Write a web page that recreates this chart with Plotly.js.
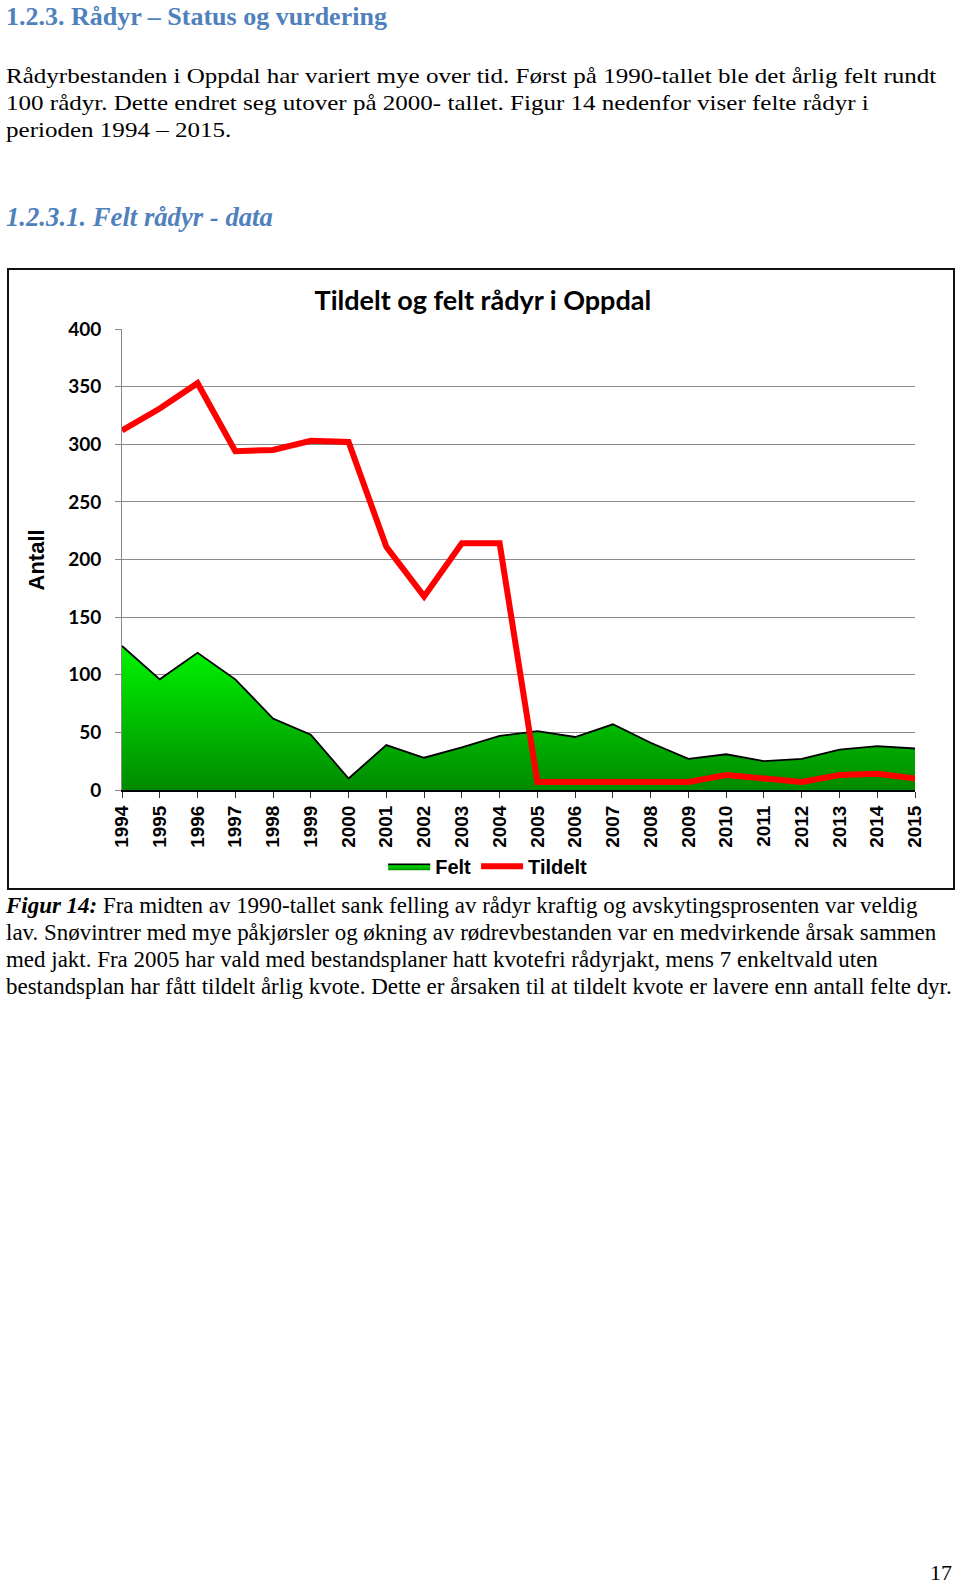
<!DOCTYPE html>
<html>
<head>
<meta charset="utf-8">
<script src="https://cdn.plot.ly/plotly-3.0.1.min.js"></script>
<style>
  html, body { margin:0; padding:0; background:#fff; }
  body { width:960px; height:1582px; position:relative; overflow:hidden; }
  .t { position:absolute; white-space:nowrap; font-family:"Liberation Serif","Times New Roman",serif; color:#000; transform-origin:0 50%; }
  .h { font-weight:bold; color:#4f81bd; font-size:26px; line-height:26px; }
  .p { font-size:22px; line-height:22px; transform:scaleX(1.138); }
  .c { font-size:22.5px; line-height:22.5px; transform:scaleX(1.02); }
  #box { position:absolute; left:7px; top:268px; width:948px; height:622px; border:2px solid #111; box-sizing:border-box; pointer-events:none; }
  #chart { position:absolute; left:0; top:268px; width:960px; height:622px; }
</style>
</head>
<body>
<div class="t h" style="left:6px; top:4px;">1.2.3. Rådyr – Status og vurdering</div>
<div class="t p" style="left:6px; top:64.9px;">Rådyrbestanden i Oppdal har variert mye over tid. Først på 1990-tallet ble det årlig felt rundt</div>
<div class="t p" style="left:6px; top:91.9px;">100 rådyr. Dette endret seg utover på 2000- tallet. Figur 14 nedenfor viser felte rådyr i</div>
<div class="t p" style="left:6px; top:118.9px;">perioden 1994 – 2015.</div>
<div class="t h" style="left:6px; top:204px; font-style:italic; font-size:26.7px;">1.2.3.1. Felt rådyr - data</div>

<div id="chart"></div>
<div id="box"></div>

<div class="t c" style="left:6px; top:894.5px;"><b><i>Figur 14:</i></b> Fra midten av 1990-tallet sank felling av rådyr kraftig og avskytingsprosenten var veldig</div>
<div class="t c" style="left:6px; top:921.8px;">lav. Snøvintrer med mye påkjørsler og økning av rødrevbestanden var en medvirkende årsak sammen</div>
<div class="t c" style="left:6px; top:949.1px;">med jakt. Fra 2005 har vald med bestandsplaner hatt kvotefri rådyrjakt, mens 7 enkeltvald uten</div>
<div class="t c" style="left:6px; top:976.4px;">bestandsplan har fått tildelt årlig kvote. Dette er årsaken til at tildelt kvote er lavere enn antall felte dyr.</div>

<div class="t" style="right:8px; top:1561.5px; font-size:22px; line-height:22px;">17</div>

<script>
const years = [1994, 1995, 1996, 1997, 1998, 1999, 2000, 2001, 2002, 2003, 2004,
               2005, 2006, 2007, 2008, 2009, 2010, 2011, 2012, 2013, 2014, 2015];
const yearLabels = ["1994", "1995", "1996", "1997", "1998", "1999", "2000", "2001", "2002", "2003", "2004",
                    "2005", "2006", "2007", "2008", "2009", "2010", "2011", "2012", "2013", "2014", "2015"];
const felt = [125, 96, 119, 96, 62, 48, 10, 39, 28, 37, 47,
              51, 46, 57, 41, 27, 31, 25, 27, 35, 38, 36];
const tildelt = [312, 331, 353, 294, 295, 303, 302, 211, 168, 214, 214,
                 7, 7, 7, 7, 7, 13, 10, 7, 13, 14, 10];
const seriesNames = ["Felt", "Tildelt"];
const chartTitle = "Tildelt og felt rådyr i Oppdal";
const yTitle = "Antall";

const traces = [
  {
    x: years, y: felt, name: seriesNames[0], type: "scatter", mode: "lines",
    fill: "tozeroy",
    fillcolor: "#00c800",
    fillgradient: { type: "vertical", start: 0, stop: 125,
                    colorscale: [[0, "#008a00"], [1, "#00f500"]] },
    line: { color: "#000000", width: 1.8 }
  },
  {
    x: years, y: tildelt, name: seriesNames[1], type: "scatter", mode: "lines",
    line: { color: "#ff0000", width: 6 }
  }
];

const layout = {
  width: 960, height: 622,
  margin: { l: 122, r: 45, t: 61, b: 100, pad: 0, autoexpand: false },
  paper_bgcolor: "rgba(0,0,0,0)",
  plot_bgcolor: "rgba(0,0,0,0)",
  title: {
    text: chartTitle,
    font: { family: "Lato, Carlito, sans-serif", size: 27, color: "#000", weight: "bold" },
    x: 0.503, xanchor: "center", xref: "container",
    y: 0.948, yanchor: "middle", yref: "container"
  },
  showlegend: true,
  legend: {
    orientation: "h", xref: "container", yref: "container",
    x: 0.508, xanchor: "center", y: 0.038, yanchor: "middle",
    font: { family: "Liberation Sans, Arial, sans-serif", size: 20, color: "#000", weight: "bold" },
    itemwidth: 42, tracegroupgap: 0, bgcolor: "rgba(0,0,0,0)"
  },
  xaxis: {
    type: "linear", range: [1994, 2015],
    tickmode: "array", tickvals: years, ticktext: yearLabels,
    tickangle: -90,
    tickfont: { family: "Liberation Sans, Arial, sans-serif", size: 19, color: "#000", weight: "bold" },
    ticks: "outside", ticklen: 6, tickcolor: "#333", tickwidth: 1,
    ticklabelstandoff: 0,
    showline: true, linecolor: "#000", linewidth: 2,
    showgrid: false, zeroline: false, fixedrange: true, automargin: false
  },
  yaxis: {
    range: [0, 400], tick0: 0, dtick: 50,
    tickfont: { family: "Lato, Carlito, sans-serif", size: 19, color: "#000", weight: "bold" },
    ticks: "outside", ticklen: 6, tickcolor: "#888", tickwidth: 1,
    showline: true, linecolor: "#888", linewidth: 1,
    showgrid: true, gridcolor: "#8c8c8c", gridwidth: 1,
    zeroline: false, fixedrange: true, automargin: false,
    ticklabelstandoff: 10
  },
  annotations: [{
    text: yTitle, xref: "paper", yref: "paper", x: -0.1072, y: 0.5,
    xanchor: "center", yanchor: "middle", textangle: -90, showarrow: false,
    font: { family: "Liberation Sans, Arial, sans-serif", size: 22, color: "#000", weight: "bold" }
  }]
};

Plotly.newPlot("chart", traces, layout, { staticPlot: true, displayModeBar: false });
</script>
</body>
</html>
